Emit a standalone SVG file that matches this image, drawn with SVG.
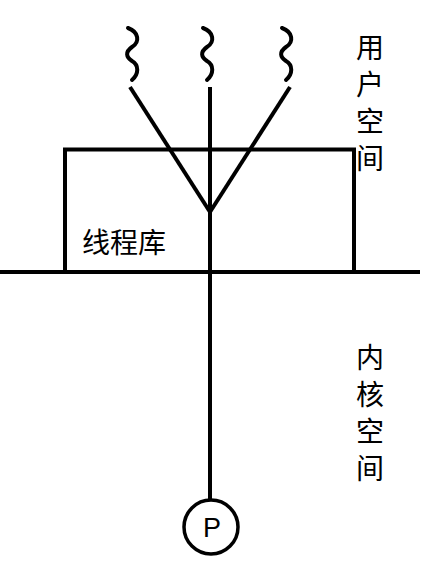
<svg xmlns="http://www.w3.org/2000/svg" width="424" height="583" viewBox="0 0 424 583">
<style>
.ln{stroke:#000;stroke-width:4;fill:none}
.wv{stroke:#000;stroke-width:4;fill:none;stroke-linecap:round}
.cj{font-family:"Noto Sans CJK SC","Noto Sans",sans-serif;font-size:28px;fill:#000}
</style>
<rect width="424" height="583" fill="#fff"/>
<g id="threads">
<path class="wv" d="M128,28 C139,32 140,42 132,47 C125,52 126,57 132,61 C139,65 139,74 132,80"/>
<path class="wv" d="M203,28 C214,32 215,42 207,47 C200,52 201,57 207,61 C214,65 214,74 207,80"/>
<path class="wv" d="M282,28 C293,32 294,42 286,47 C279,52 280,57 286,61 C293,65 293,74 286,80"/>
</g>
<g id="library">
<rect x="65" y="149.5" width="289" height="122.5" class="ln" stroke-width="5"/>
<text class="cj" x="82" y="253" font-size="29">线程库</text>
</g>
<g id="boundary">
<line x1="0" y1="272" x2="420" y2="272" class="ln"/>
</g>
<g id="connectors">
<line x1="130" y1="87" x2="210" y2="212" class="ln"/>
<line x1="290" y1="87" x2="210" y2="212" class="ln"/>
<line x1="210" y1="87" x2="210" y2="500" class="ln"/>
</g>
<g id="process">
<circle cx="211" cy="527" r="27" fill="#fff" stroke="#000" stroke-width="3.5"/>
<text x="212" y="537" text-anchor="middle" font-family="Liberation Sans, sans-serif" font-size="27">P</text>
</g>
<g id="user-space">
<text class="cj" text-anchor="middle" x="370" y="58">用</text>
<text class="cj" text-anchor="middle" x="370" y="95">户</text>
<text class="cj" text-anchor="middle" x="370" y="132">空</text>
<text class="cj" text-anchor="middle" x="370" y="169">间</text>
</g>
<g id="kernel-space">
<text class="cj" text-anchor="middle" x="370" y="368">内</text>
<text class="cj" text-anchor="middle" x="370" y="405">核</text>
<text class="cj" text-anchor="middle" x="370" y="442">空</text>
<text class="cj" text-anchor="middle" x="370" y="479">间</text>
</g>
</svg>
